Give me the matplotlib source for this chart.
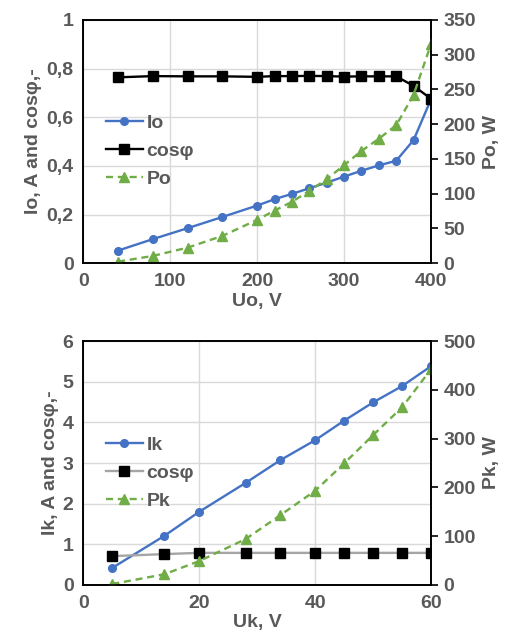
import matplotlib
matplotlib.use("Agg")
from matplotlib import pyplot as plt

plt.rcParams['font.family'] = ['Liberation Sans', 'DejaVu Sans']
plt.rcParams['font.weight'] = 'bold'
plt.rcParams['axes.labelweight'] = 'bold'

GRAY = '#595959'
BLUE = '#4472C4'
GREEN = '#70AD47'

# no-load test
uo = [40, 80, 120, 160, 200, 220, 240, 260, 280, 300, 320, 340, 360, 380, 400]
io = [0.052, 0.099, 0.144, 0.19, 0.237, 0.263, 0.285, 0.308, 0.331, 0.356,
      0.38, 0.402, 0.421, 0.506, 0.673]
cos_o = [0.764, 0.769, 0.768, 0.768, 0.766, 0.769, 0.769, 0.770, 0.769, 0.767,
         0.768, 0.768, 0.768, 0.729, 0.676]
po = [2.3, 10.5, 22.4, 39.3, 62.3, 75.7, 88.2, 104, 120.8, 141, 161.5, 179,
      198.5, 242, 315]

# short-circuit test
uk = [5, 14, 20, 28, 34, 40, 45, 50, 55, 60]
ik = [0.42, 1.21, 1.80, 2.51, 3.07, 3.56, 4.04, 4.49, 4.89, 5.38]
cos_k = [0.71, 0.76, 0.79, 0.79, 0.79, 0.79, 0.79, 0.79, 0.79, 0.79]
pk = [2, 22, 49, 94, 143, 193, 249, 307, 364, 442]

FS = 14
TICK_FONT = dict(fontsize=FS, fontweight='bold', color=GRAY)


def style(ax, ax2):
    for a in (ax, ax2):
        for s in a.spines.values():
            s.set_color('black')
            s.set_linewidth(1.2)
    ax.tick_params(axis='both', length=0, pad=7)
    ax2.tick_params(axis='y', length=5, width=1.2, color='black', pad=4)
    ax.grid(True, color='#d9d9d9', linewidth=1)
    ax.set_axisbelow(True)


def panel(rect, x, i, c, p, names, cos_color, xlim, xticks, ylim, yticks, yticklabels,
          y2lim, y2ticks, xlabel, ylabel, y2label, leg_y):
    ax = fig.add_axes(rect)
    ax2 = ax.twinx()
    h1, = ax.plot(x, i, color=BLUE, lw=1.7, marker='o', ms=5.5, label=names[0])
    h2, = ax.plot(x, c, color=cos_color, lw=1.7, marker='s', ms=6.5, mfc='black',
                  mec='black', label=names[1])
    h3, = ax2.plot(x, p, color=GREEN, lw=1.7, ls=(0, (3, 2)), marker='^', ms=7,
                   label=names[2])
    style(ax, ax2)
    ax.set_xlim(*xlim)
    ax.set_xticks(xticks, [str(v) for v in xticks], **TICK_FONT)
    ax.set_ylim(*ylim)
    ax.set_yticks(yticks, yticklabels, **TICK_FONT)
    ax2.set_ylim(*y2lim)
    ax2.set_yticks(y2ticks, [str(v) for v in y2ticks], **TICK_FONT)
    ax.set_xlabel(xlabel, fontsize=FS, color=GRAY, fontweight='bold', labelpad=2)
    ax.set_ylabel(ylabel, fontsize=FS, color=GRAY, fontweight='bold', labelpad=3)
    ax2.set_ylabel(y2label, fontsize=FS, color=GRAY, fontweight='bold', labelpad=5,
                   rotation=90)
    leg = ax2.legend(handles=[h1, h2, h3], loc='center left', bbox_to_anchor=(0.065, leg_y),
                     frameon=False, handlelength=1.9, handletextpad=0.2,
                     labelspacing=0.55, borderaxespad=0, borderpad=0,
                     prop=dict(size=14, weight='bold'))
    for t in leg.get_texts():
        t.set_color(GRAY)
    return ax, ax2


fig = plt.figure(figsize=(5.12, 6.42), dpi=100)

panel([0.1627, 0.590, 0.679, 0.379], uo, io, cos_o, po, ['Io', 'cosφ', 'Po'], 'black',
      (0, 400), [0, 100, 200, 300, 400], (0, 1), [0, 0.2, 0.4, 0.6, 0.8, 1],
      ['0', '0,2', '0,4', '0,6', '0,8', '1'], (0, 350), list(range(0, 351, 50)),
      'Uo, V', 'Io, A and cosφ,-', 'Po, W', 0.461)

panel([0.1627, 0.0888, 0.679, 0.380], uk, ik, cos_k, pk, ['Ik', 'cosφ', 'Pk'], '#A5A5A5',
      (0, 60), [0, 20, 40, 60], (0, 6), list(range(0, 7)),
      [str(v) for v in range(0, 7)], (0, 500), list(range(0, 501, 100)),
      'Uk, V', 'Ik, A and cosφ,-', 'Pk, W', 0.459)

fig.savefig('out.png', dpi=100)
